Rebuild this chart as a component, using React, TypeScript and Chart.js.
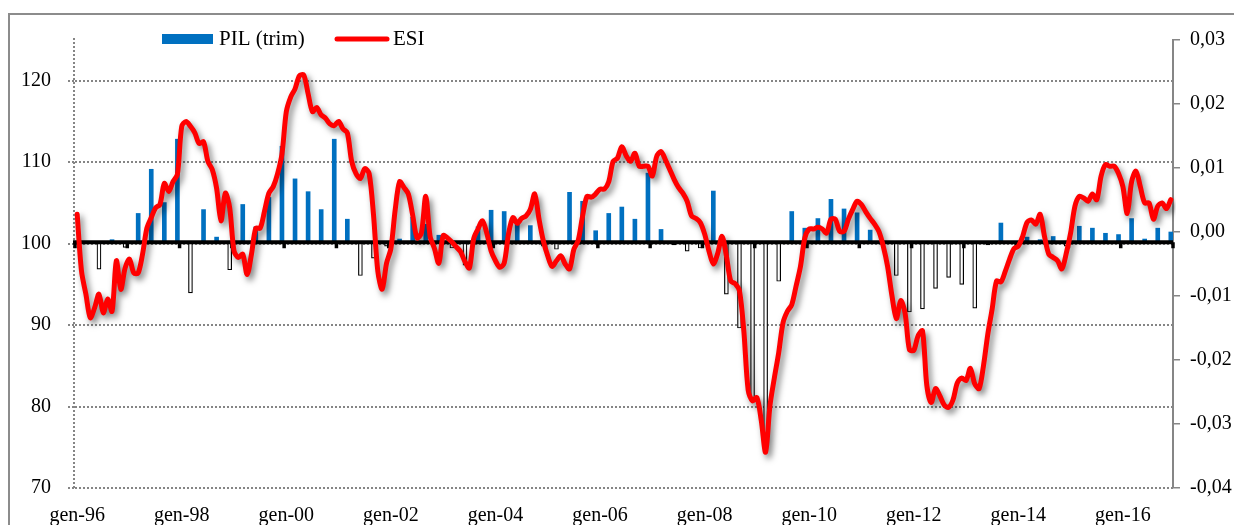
import React, { useEffect, useRef } from 'react';
import { Chart, registerables } from 'chart.js';

Chart.register(...registerables);

const FONT = '"Liberation Serif", "Times New Roman", serif';

const MONTHS = ['gen', 'feb', 'mar', 'apr', 'mag', 'giu', 'lug', 'ago', 'set', 'ott', 'nov', 'dic'];
const YEARS = ['96', '97', '98', '99', '00', '01', '02', '03', '04', '05', '06', '07', '08', '09', '10', '11', '12', '13', '14', '15', '16'];
const categories = YEARS.flatMap((y) => MONTHS.map((m) => `${m}-${y}`));

// ESI (monthly, left axis)
const ESI = [
  103.6, 96.6, 93.8, 90.9, 92.1, 93.8, 91.5, 93.2, 91.7, 97.9, 94.4, 97.0,
  98.1, 96.4, 96.4, 98.7, 101.9, 103.2, 104.4, 104.8, 107.4, 106.4, 107.6, 108.5,
  114.4, 115.0, 114.4, 113.6, 112.3, 112.5, 110.1, 109.1, 106.8, 102.8, 106.2, 104.4,
  99.1, 98.3, 98.7, 96.2, 98.7, 101.9, 101.9, 104.0, 106.2, 107.0, 108.6, 111.0,
  116.2, 118.0, 119.0, 120.6, 120.7, 118.4, 116.2, 116.7, 115.8, 115.4, 114.7, 114.5,
  115.0, 114.1, 113.6, 110.1, 108.6, 108.0, 109.2, 108.6, 103.6, 96.6, 94.4, 97.6,
  99.4, 104.2, 107.6, 106.9, 106.1, 103.5, 100.7, 101.3, 105.8, 100.9, 99.4, 97.6,
  101.0, 100.7, 100.2, 99.6, 99.0, 97.8, 97.0, 100.6, 101.8, 102.8, 101.3, 99.1,
  97.9, 97.1, 97.6, 101.2, 103.2, 102.5, 103.1, 103.4, 104.2, 106.1, 103.0, 100.3,
  98.5, 97.2, 97.9, 98.5, 97.5, 96.9, 99.3, 100.4, 103.4, 105.8, 105.7, 106.1,
  106.7, 106.7, 107.6, 110.1, 110.5, 111.9, 110.8, 110.1, 111.1, 109.5, 109.5, 109.5,
  108.3, 110.7, 111.3, 110.3, 109.1, 107.9, 106.9, 106.2, 105.2, 103.4, 103.1, 102.6,
  101.2, 99.1, 97.5, 98.8, 100.9, 98.5, 95.4, 95.1, 94.2, 89.3, 82.0, 80.7,
  81.1, 78.3, 74.4, 80.1, 83.5, 86.6, 90.3, 91.7, 92.5, 94.8, 97.2, 100.7,
  101.8, 101.8, 102.0, 101.8, 101.3, 103.0, 103.0, 101.5, 101.5, 103.0, 104.2, 105.2,
  104.8, 103.9, 103.1, 102.4, 101.5, 99.7, 97.2, 93.6, 90.8, 93.0, 91.5, 87.0,
  86.9, 88.7, 89.3, 82.6, 80.5, 82.2, 81.3, 80.2, 79.9, 80.8, 82.9, 83.5,
  83.2, 84.7, 82.8, 82.2, 85.0, 88.9, 92.0, 95.4, 95.3, 96.6, 98.1, 99.4,
  99.7, 100.9, 102.6, 102.9, 102.4, 103.6, 100.9, 98.7, 98.3, 97.9, 96.9, 98.8,
  101.3, 104.6, 105.8, 105.6, 105.2, 106.1, 105.4, 108.3, 109.7, 109.5, 109.5, 108.6,
  107.0, 103.7, 107.6, 108.9, 107.0, 105.0, 105.0, 103.0, 104.6, 105.0, 104.3, 105.4,
];

// PIL (trim) quarterly growth, right axis (plotted at the last month of each quarter)
const PIL_Q = [
  -0.0015, -0.0058, -0.0012, -0.0024,
  0.0029, 0.0098, 0.0046, 0.0145,
  -0.0095, 0.0035, -0.0008, -0.0059,
  0.0043, 0.0008, 0.0054, 0.0134,
  0.0083, 0.0063, 0.0035, 0.0145,
  0.0020, -0.0068, -0.0041, -0.0022,
  -0.0011, 0.0023, 0.0012, -0.0005,
  -0.0025, -0.0052, 0.0008, 0.0034,
  0.0032, 0.0015, 0.0010, -0.0022,
  -0.0027, 0.0062, 0.0048, 0.0002,
  0.0029, 0.0039, 0.0020, 0.0092,
  0.0004, -0.0020, -0.0030, -0.0025,
  0.0064, -0.0097, -0.0150, -0.0263,
  -0.0341, -0.0077, 0.0032, 0.0006,
  0.0021, 0.0051, 0.0036, 0.0030,
  0.0003, -0.0018, -0.0068, -0.0125,
  -0.0120, -0.0088, -0.0071, -0.0082,
  -0.0119, -0.0020, 0.0014, -0.0018,
  -0.0008, -0.0012, -0.0007, -0.0022,
  0.0009, 0.0006, -0.0002, -0.0004,
  0.0021, -0.0011, 0.0006, 0.0000,
];

const LEFT_TICKS = [70, 80, 90, 100, 110, 120];
const RIGHT_TICKS = [-0.04, -0.03, -0.02, -0.01, 0, 0.01, 0.02, 0.03];
const X_LABEL_EVERY = 24;
const BAR_BASE = -0.0016; // where the category axis crosses the secondary axis

const pilMonthly = categories.map((_, i) => (i % 3 === 2 ? PIL_Q[(i - 2) / 3] : null));

const BLUE = '#0070C0';
const RED = '#FF0000';
const GRID = '#858585';

const decor = {
  id: 'decor',
  beforeDatasetDraw(chart: any, args: any) {
    if (args.index !== 1) return;
    const { ctx, chartArea: a, scales } = chart;
    const x = scales.x;
    const y1 = scales.y1;
    ctx.save();
    // dotted left axis
    ctx.strokeStyle = GRID;
    ctx.lineWidth = 2;
    ctx.setLineDash([2, 2]);
    ctx.beginPath();
    ctx.moveTo(a.left - 1, a.top - 2);
    ctx.lineTo(a.left - 1, a.bottom);
    ctx.stroke();
    ctx.setLineDash([]);
    // category axis line
    const yb = y1.getPixelForValue(BAR_BASE);
    ctx.strokeStyle = '#000';
    ctx.lineWidth = 4;
    ctx.beginPath();
    ctx.moveTo(a.left - 2, yb);
    ctx.lineTo(a.right, yb);
    ctx.stroke();
    // yearly tick marks
    const n = categories.length;
    const w = (a.right - a.left) / n;
    ctx.lineWidth = 3.5;
    for (let i = 0; i <= n; i += 12) {
      const px = i === n ? x.getPixelForValue(n - 1) + w / 2 : x.getPixelForValue(i) - w / 2;
      ctx.beginPath();
      ctx.moveTo(px, yb);
      ctx.lineTo(px, yb + 6);
      ctx.stroke();
    }
    ctx.restore();
    ctx.save();
    ctx.shadowColor = 'rgba(0,0,0,0.5)';
    ctx.shadowBlur = 6;
    ctx.shadowOffsetX = 3;
    ctx.shadowOffsetY = 4;
  },
  afterDatasetDraw(chart: any, args: any) {
    if (args.index === 1) chart.ctx.restore();
  },
  afterDraw(chart: any) {
    const { ctx, chartArea: a } = chart;
    const ds = chart.data.datasets;
    const cy = a.top - 1;
    ctx.save();
    ctx.font = `21px ${FONT}`;
    ctx.textBaseline = 'middle';
    ctx.textAlign = 'left';
    ctx.fillStyle = BLUE;
    ctx.fillRect(a.left + 87, cy - 5, 51, 10);
    ctx.fillStyle = '#000';
    ctx.fillText(ds[0].label, a.left + 144, cy);
    ctx.strokeStyle = RED;
    ctx.lineWidth = 5;
    ctx.lineCap = 'round';
    ctx.beginPath();
    ctx.moveTo(a.left + 262, cy);
    ctx.lineTo(a.left + 312, cy);
    ctx.stroke();
    ctx.fillText(ds[1].label, a.left + 318, cy);
    ctx.restore();
  },
};

export default function App() {
  const ref = useRef<HTMLCanvasElement>(null);

  useEffect(() => {
    if (!ref.current) return;
    const isPos = (c: any) => {
      const v = c.raw;
      return v === null || v === undefined || v >= BAR_BASE;
    };
    const chart = new Chart(ref.current, {
      type: 'bar',
      data: {
        labels: categories,
        datasets: [
          {
            type: 'bar',
            label: 'PIL (trim)',
            data: pilMonthly,
            yAxisID: 'y1',
            base: BAR_BASE,
            order: 1,
            barThickness: 4,
            backgroundColor: (c: any) => (isPos(c) ? BLUE : '#ffffff'),
            borderColor: (c: any) => (isPos(c) ? BLUE : '#000000'),
            borderWidth: (c: any) => (isPos(c) ? 0 : 1.2),
            borderSkipped: false,
          } as any,
          {
            type: 'line',
            label: 'ESI',
            data: ESI,
            yAxisID: 'y',
            order: 0,
            borderColor: RED,
            backgroundColor: RED,
            borderWidth: 5,
            pointRadius: 0,
            tension: 0.3,
            borderCapStyle: 'round',
            borderJoinStyle: 'round',
          } as any,
        ],
      },
      options: {
        animation: false,
        responsive: false,
        maintainAspectRatio: false,
        layout: { padding: { top: 40, left: 0, right: 0, bottom: 0 } },
        plugins: { legend: { display: false }, tooltip: { enabled: false } },
        scales: {
          x: {
            type: 'category',
            offset: true,
            grid: { display: false, drawTicks: false },
            border: { display: false },
            ticks: {
              autoSkip: false,
              maxRotation: 0,
              minRotation: 0,
              padding: 16,
              color: '#000',
              font: { family: FONT, size: 20 },
              callback: (_v: any, i: number) => (i % X_LABEL_EVERY === 0 ? categories[i] : ''),
            },
            afterFit: (s: any) => {
              s.height = 37;
            },
          },
          y: {
            type: 'linear',
            position: 'left',
            min: 70,
            max: 125,
            afterBuildTicks: (s: any) => {
              s.ticks = LEFT_TICKS.map((v) => ({ value: v }));
            },
            grid: { color: GRID, lineWidth: 2, tickLength: 7, tickBorderDash: [2, 2] },
            border: { display: false, dash: [2, 2] },
            ticks: {
              padding: 17,
              color: '#000',
              font: { family: FONT, size: 20 },
              callback: (v: any) => String(v),
            },
            afterFit: (s: any) => {
              s.width = 75;
            },
          },
          y1: {
            type: 'linear',
            position: 'right',
            min: -0.04,
            max: 0.03,
            afterBuildTicks: (s: any) => {
              s.ticks = RIGHT_TICKS.map((v) => ({ value: v }));
            },
            grid: { drawOnChartArea: false, color: '#868686', lineWidth: 1.5, tickLength: 7 },
            border: { display: true, color: '#868686', width: 2 },
            ticks: {
              padding: 10,
              color: '#000',
              font: { family: FONT, size: 20 },
              callback: (v: any) => Number(v).toFixed(2).replace('.', ','),
            },
            afterFit: (s: any) => {
              s.width = 61;
            },
          },
        },
      } as any,
      plugins: [decor],
    });
    return () => chart.destroy();
  }, []);

  return (
    <div style={{ position: 'fixed', left: 0, top: 0, width: 1234, height: 525, overflow: 'hidden', background: '#fff' }}>
      <div
        style={{
          position: 'absolute',
          left: 8,
          top: 13,
          width: 1300,
          height: 600,
          border: '2px solid #8c8c8c',
          boxSizing: 'border-box',
        }}
      />
      <canvas ref={ref} width={1234} height={525} style={{ position: 'absolute', left: 0, top: 0, width: 1234, height: 525 }} />
    </div>
  );
}
